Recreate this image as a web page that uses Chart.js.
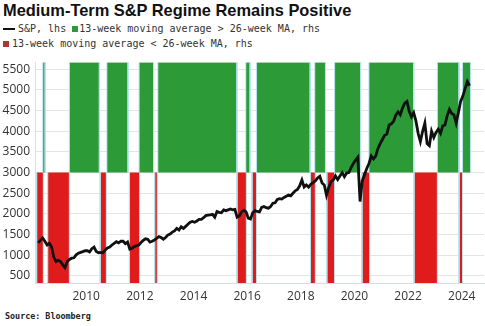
<!DOCTYPE html>
<html>
<head>
<meta charset="utf-8">
<script src="https://cdn.jsdelivr.net/npm/chart.js@4.4.1/dist/chart.umd.min.js"></script>
<style>
  body { margin: 0; width: 485px; height: 326px; background: #fff; position: relative; overflow: hidden; }
  .title { position: absolute; left: 3px; top: 1px; font: bold 16.4px "Liberation Sans", Arial, sans-serif; color: #111; white-space: nowrap; }
  .leg { position: absolute; font: 10px "DejaVu Sans Mono", monospace; color: #333; white-space: nowrap; line-height: 12px; }
  .sw { display: inline-block; vertical-align: middle; }
  .src { position: absolute; left: 5px; top: 311px; font: bold 8.4px "DejaVu Sans Mono", monospace; color: #222; }
  #wrap { position: absolute; left: 0; top: 50px; width: 485px; height: 258px; }
</style>
</head>
<body>
<div class="title">Medium-Term S&amp;P Regime Remains Positive</div>
<div class="leg" style="left:3px; top:23px;">
  <span class="sw" style="width:12px;height:2px;background:#111;margin-right:3px;"></span>S&amp;P, lhs
  <span class="sw" style="width:6px;height:6px;background:#2b9a37;margin:0 1px 0 0;"></span>13-week moving average &gt; 26-week MA, rhs
</div>
<div class="leg" style="left:3px; top:38px;">
  <span class="sw" style="width:6px;height:6px;background:#a83a36;margin-right:3px;"></span>13-week moving average &lt; 26-week MA, rhs
</div>
<div id="wrap"><canvas id="chart"></canvas></div>
<div class="src">Source: Bloomberg</div>

<script>
// S&P 500, one value per month from Mar 2008 to Apr 2024
const spxFirstMonth = 2008 + 2 / 12;
const spx = [
  1300, 1360, 1420, 1340, 1250, 1290, 1200, 950, 850, 880,                    // 2008
  850, 770, 700, 850, 900, 930, 940, 1010, 1050, 1070, 1090, 1110,            // 2009
  1110, 1080, 1160, 1200, 1090, 1060, 1070, 1060, 1130, 1180, 1200, 1250,     // 2010
  1290, 1330, 1300, 1340, 1340, 1280, 1320, 1150, 1170, 1210, 1230, 1250,     // 2011
  1310, 1360, 1400, 1390, 1320, 1340, 1370, 1410, 1450, 1430, 1390, 1430,     // 2012
  1490, 1515, 1560, 1590, 1650, 1610, 1690, 1650, 1700, 1750, 1800, 1820,     // 2013
  1800, 1830, 1870, 1870, 1910, 1960, 1970, 1980, 1990, 1920, 2060, 2040,     // 2014
  2030, 2100, 2080, 2100, 2120, 2100, 2110, 1920, 1950, 2050, 2090, 2050,     // 2015
  1900, 1880, 2030, 2080, 2060, 2050, 2160, 2180, 2150, 2140, 2180, 2260,     // 2016
  2270, 2350, 2370, 2360, 2400, 2430, 2460, 2440, 2500, 2560, 2590, 2680,     // 2017
  2820, 2650, 2700, 2650, 2720, 2760, 2800, 2870, 2910, 2750, 2700, 2450,     // 2018
  2640, 2780, 2820, 2920, 2830, 2920, 3000, 2900, 2990, 3000, 3120, 3220,     // 2019
  3300, 3370, 2300, 2800, 2950, 3100, 3220, 3400, 3330, 3400, 3580, 3700,     // 2020
  3800, 3900, 3930, 4150, 4180, 4240, 4390, 4470, 4400, 4560, 4680, 4720,     // 2021
  4480, 4350, 4450, 4250, 3950, 3750, 4000, 4200, 3700, 3650, 4000, 3850,     // 2022
  3970, 4050, 3950, 4130, 4150, 4380, 4530, 4430, 4400, 4200, 4450, 4720,     // 2023
  4850, 5030, 5200, 5100                                                      // 2024
];

// regime periods, decimal years
const upStart = [2008.38, 2009.37, 2010.77, 2011.97, 2012.67, 2015.95, 2016.35, 2018.52, 2019.26, 2020.54, 2023.09, 2024.03];
const upEnd   = [2008.47, 2010.49, 2011.56, 2012.51, 2015.62, 2016.11, 2018.35, 2018.92, 2020.23, 2022.21, 2023.90, 2024.33];
const downStart = [2008.15, 2008.56, 2010.52, 2011.61, 2012.55, 2015.62, 2016.18, 2018.36, 2018.97, 2020.28, 2022.22, 2023.90];
const downEnd   = [2008.40, 2009.37, 2010.75, 2011.99, 2012.65, 2015.97, 2016.35, 2018.54, 2019.26, 2020.57, 2023.09, 2024.03];

const yTicks = [500, 1000, 1500, 2000, 2500, 3000, 3500, 4000, 4500, 5000, 5500];
const xTicks = [2010, 2012, 2014, 2016, 2018, 2020, 2022, 2024];

const yMin = 330, yMax = 5670, regimeBase = 3000;
const xMin = 2008.09, xMax = 2024.83;

function blocks(starts, ends, level) {
  const pts = [];
  starts.forEach((s, i) => {
    pts.push({ x: s, y: regimeBase }, { x: s, y: level }, { x: ends[i], y: level }, { x: ends[i], y: regimeBase });
  });
  return pts;
}

const spxPoints = spx.map((v, i) => ({ x: spxFirstMonth + (i + 0.5) / 12, y: v }));

const edgeColor = ctx => ctx.p0.parsed.x === ctx.p1.parsed.x ? '#b5e3ea' : 'rgba(0,0,0,0)';

new Chart(document.getElementById('chart'), {
  type: 'line',
  data: {
    datasets: [
      {
        label: 'S&P, lhs',
        data: spxPoints,
        borderColor: '#111',
        borderWidth: 2.8,
        pointRadius: 0,
        tension: 0,
        order: 0
      },
      {
        label: '13-week moving average > 26-week MA, rhs',
        data: blocks(upStart, upEnd, yMax),
        borderWidth: 1,
        segment: { borderColor: edgeColor },
        backgroundColor: '#2b9a37',
        fill: { value: regimeBase },
        pointRadius: 0,
        tension: 0,
        order: 1
      },
      {
        label: '13-week moving average < 26-week MA, rhs',
        data: blocks(downStart, downEnd, yMin),
        borderWidth: 1,
        segment: { borderColor: edgeColor },
        backgroundColor: '#e01b1b',
        fill: { value: regimeBase },
        pointRadius: 0,
        tension: 0,
        order: 2
      }
    ]
  },
  options: {
    responsive: true,
    maintainAspectRatio: false,
    animation: false,
    devicePixelRatio: 1,
    layout: { padding: { top: 11, right: 1, left: 0, bottom: 0 } },
    plugins: { legend: { display: false }, tooltip: { enabled: false } },
    scales: {
      x: {
        type: 'linear',
        min: xMin,
        max: xMax,
        afterFit: s => { s.height = 25; },
        afterBuildTicks: s => { s.ticks = xTicks.map(v => ({ value: v })); },
        grid: { display: false, drawTicks: false },
        border: { color: '#d4dfe3' },
        ticks: {
          padding: 6,
          color: '#333',
          font: { family: 'Open Sans', size: 12 },
          callback: v => String(v)
        }
      },
      y: {
        min: yMin,
        max: yMax,
        afterFit: s => { s.width = 35; },
        afterBuildTicks: s => { s.ticks = yTicks.map(v => ({ value: v })); },
        grid: { color: '#e4e4e4', drawTicks: false },
        border: { color: '#cfe3ea' },
        ticks: {
          padding: 5,
          color: '#333',
          font: { family: 'Open Sans', size: 12 },
          callback: v => String(v)
        }
      }
    }
  }
});
</script>
</body>
</html>
